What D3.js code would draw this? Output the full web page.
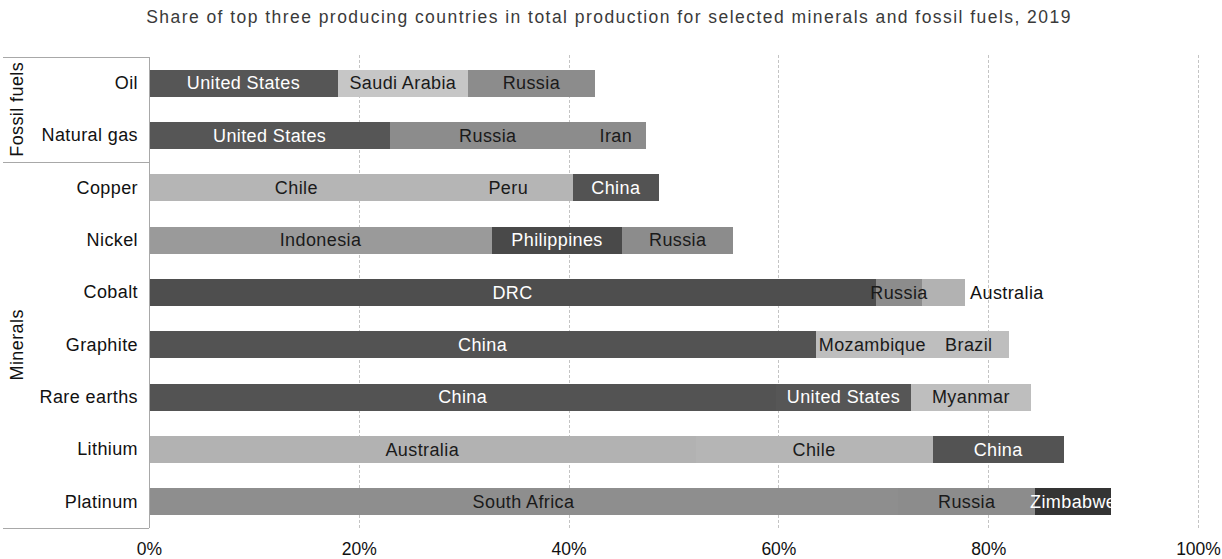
<!DOCTYPE html>
<html>
<head>
<meta charset="utf-8">
<script src="https://cdn.jsdelivr.net/npm/d3@7"></script>
<style>
  html, body { margin: 0; padding: 0; background: #fff; }
  svg { display: block; font-family: "Liberation Sans", Arial, sans-serif; }
</style>
</head>
<body>
<svg id="chart" width="1222" height="559"></svg>
<script>
// ---------------- data ----------------
const title = "Share of top three producing countries in total production for selected minerals and fossil fuels, 2019";
const categories = ["Oil", "Natural gas", "Copper", "Nickel", "Cobalt", "Graphite", "Rare earths", "Lithium", "Platinum"];
const groupNames = ["Fossil fuels", "Minerals"];
const groupSizes = [2, 7];

const firstCountry  = ["United States", "United States", "Chile", "Indonesia", "DRC", "China", "China", "Australia", "South Africa"];
const firstShare    = [18.0, 23.0, 28.1, 32.7, 69.3, 63.6, 59.8, 52.1, 71.4];
const secondCountry = ["Saudi Arabia", "Russia", "Peru", "Philippines", "Russia", "Mozambique", "United States", "Chile", "Russia"];
const secondShare   = [12.4, 18.6, 12.3, 12.4, 4.4, 10.7, 12.8, 22.6, 13.1];
const thirdCountry  = ["Russia", "Iran", "China", "Russia", "Australia", "Brazil", "Myanmar", "China", "Zimbabwe"];
const thirdShare    = [12.1, 5.8, 8.2, 10.6, 4.1, 7.7, 11.5, 12.5, 7.2];

const xTicks = [0, 0.2, 0.4, 0.6, 0.8, 1.0];
const outsideLabels = ["Cobalt|Australia"];

// ---------------- styles ----------------
const shade = {
  "United States": "#565656", "China": "#535353", "DRC": "#4e4e4e", "Philippines": "#494949",
  "Zimbabwe": "#343434",
  "Russia": "#8c8c8c", "Iran": "#8c8c8c", "Indonesia": "#9a9a9a", "South Africa": "#8e8e8e",
  "Saudi Arabia": "#c6c6c6", "Chile": "#b5b5b5", "Peru": "#b5b5b5", "Australia": "#b2b2b2",
  "Mozambique": "#bebebe", "Brazil": "#bebebe", "Myanmar": "#bebebe"
};
function textColor(fill) {
  return d3.hsl(fill).l < 0.4 ? "#ffffff" : "#1a1a1a";
}
const labelFont = 18, labelSpacing = 0.4;

// ---------------- build rows ----------------
const rows = categories.map((c, i) => {
  const names = [firstCountry[i], secondCountry[i], thirdCountry[i]];
  const vals = [firstShare[i], secondShare[i], thirdShare[i]].map(v => v / 100);
  let acc = 0;
  const segs = names.map((n, k) => {
    const s = { cat: c, row: i, country: n, x0: acc, x1: acc + vals[k], idx: i * 3 + k };
    acc += vals[k];
    return s;
  });
  return { cat: c, row: i, total: acc, segs };
});

// ---------------- layout ----------------
const svg = d3.select("#chart");
const plotLeft = 149, plotRight = 1198, plotTop = 57, plotBottom = 528;

const x = d3.scaleLinear().domain([0, 1]).range([plotLeft, plotRight]);
const y = d3.scaleBand().domain(categories).range([plotTop, plotBottom])
  .paddingInner(0.484).paddingOuter(0.242);

// title
svg.append("text")
  .attr("x", 609).attr("y", 23)
  .attr("text-anchor", "middle")
  .attr("font-size", 17.5)
  .attr("letter-spacing", 1.45)
  .attr("fill", "#3a3a3a")
  .text(title);

// gridlines
svg.append("g").selectAll("line")
  .data(xTicks.filter(t => t > 0))
  .join("line")
  .attr("x1", d => Math.round(x(d)) + 0.5).attr("x2", d => Math.round(x(d)) + 0.5)
  .attr("y1", plotTop - 2).attr("y2", plotBottom + 2)
  .attr("stroke", "#c4c4c4").attr("stroke-width", 1)
  .attr("stroke-dasharray", "3,2");

// x axis tick labels
const xAxis = d3.axisBottom(x).tickValues(xTicks).tickFormat(d3.format(".0%")).tickSize(0).tickPadding(0);
const gx = svg.append("g").attr("transform", `translate(0, ${plotBottom})`).call(xAxis);
gx.select(".domain").remove();
gx.selectAll("text")
  .attr("y", 27)
  .attr("dy", 0)
  .attr("font-size", 17.5)
  .attr("font-family", '"Liberation Sans", Arial, sans-serif')
  .attr("fill", "#111");

// clip paths per row (labels clipped at the bar end)
const defs = svg.append("defs");
defs.selectAll("clipPath").data(rows).join("clipPath")
  .attr("id", d => "rowclip" + d.row)
  .append("rect")
  .attr("x", x(0)).attr("width", d => x(d.total) - x(0))
  .attr("y", d => y(d.cat)).attr("height", y.bandwidth());

const allSegs = rows.flatMap(r => r.segs);

// bars
const gBars = svg.append("g");
gBars.selectAll("rect").data(allSegs).join("rect")
  .attr("x", d => x(d.x0))
  .attr("width", d => x(d.x1) - x(d.x0))
  .attr("y", d => y(d.cat))
  .attr("height", y.bandwidth())
  .attr("shape-rendering", "crispEdges")
  .attr("fill", d => shade[d.country]);

// segment labels
gBars.selectAll("text").data(allSegs).join("text")
  .each(function (d) {
    const out = outsideLabels.includes(d.cat + "|" + d.country);
    const t = d3.select(this);
    t.attr("y", y(d.cat) + y.bandwidth() / 2)
      .attr("dy", "0.35em")
      .attr("font-size", labelFont)
      .attr("letter-spacing", labelSpacing)
      .text(d.country);
    if (out) {
      t.attr("x", x(d.x1) + 5).attr("text-anchor", "start").attr("fill", "#111");
    } else {
      t.attr("x", (x(d.x0) + x(d.x1)) / 2).attr("text-anchor", "middle")
        .attr("fill", textColor(shade[d.country]))
        .attr("clip-path", `url(#rowclip${d.row})`);
    }
  });

// y axis line
svg.append("line")
  .attr("x1", plotLeft + 0.5).attr("x2", plotLeft + 0.5)
  .attr("y1", plotTop).attr("y2", plotBottom)
  .attr("stroke", "#a8a8a8").attr("stroke-width", 1);

// category labels
const yAxis = d3.axisLeft(y).tickSize(0).tickPadding(11);
const gy = svg.append("g").attr("transform", `translate(${plotLeft}, 0)`).call(yAxis);
gy.select(".domain").remove();
gy.selectAll("text")
  .attr("font-size", labelFont)
  .attr("letter-spacing", labelSpacing)
  .attr("font-family", '"Liberation Sans", Arial, sans-serif')
  .attr("fill", "#111");

// group boxes & labels
const step = y.step();
let start = 0;
const boundaries = [plotTop];
groupNames.forEach((g, gi) => {
  const first = categories[start];
  const last = categories[start + groupSizes[gi] - 1];
  const top = gi === 0 ? plotTop : y(first) - (step - y.bandwidth()) / 2;
  const bottom = gi === groupNames.length - 1 ? plotBottom : y(last) + y.bandwidth() + (step - y.bandwidth()) / 2;
  boundaries.push(bottom);
  svg.append("text")
    .attr("transform", `translate(23, ${(top + bottom) / 2}) rotate(-90)`)
    .attr("text-anchor", "middle")
    .attr("font-size", labelFont)
    .attr("letter-spacing", labelSpacing)
    .attr("fill", "#111")
    .text(g);
  start += groupSizes[gi];
});
svg.append("g").selectAll("line").data(boundaries).join("line")
  .attr("x1", 3).attr("x2", plotLeft)
  .attr("y1", d => Math.round(d) + 0.5).attr("y2", d => Math.round(d) + 0.5)
  .attr("stroke", "#a8a8a8").attr("stroke-width", 1);
</script>
</body>
</html>
